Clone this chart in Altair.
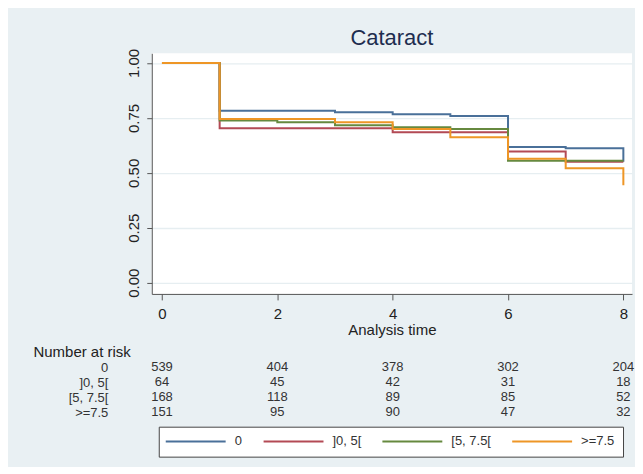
import altair as alt
import pandas as pd

# ---- data ----
groups = ["0", "]0, 5[", "[5, 7.5[", ">=7.5"]
colors = ["#4a7099", "#b34a55", "#66893f", "#ee9626"]

times = [0, 1, 2, 3, 4, 5, 6, 7, 8]
surv_0 = [1.0, 0.782, 0.782, 0.776, 0.767, 0.759, 0.617, 0.612, 0.550]
surv_1 = [1.0, 0.703, 0.703, 0.703, 0.685, 0.685, 0.597, 0.550, 0.550]
surv_2 = [1.0, 0.738, 0.730, 0.717, 0.708, 0.700, 0.555, 0.555, 0.555]
surv_3 = [1.0, 0.745, 0.745, 0.730, 0.700, 0.662, 0.564, 0.521, 0.444]

risk_times = [0, 2, 4, 6, 8]
risk_0 = [539, 404, 378, 302, 204]
risk_1 = [64, 45, 42, 31, 18]
risk_2 = [168, 118, 89, 85, 52]
risk_3 = [151, 95, 90, 47, 32]

x_ticks = [0, 2, 4, 6, 8]
y_ticks = [0, 0.25, 0.5, 0.75, 1.0]

# ---- tables ----
km_rows = []
for g, s in zip(groups, [surv_0, surv_1, surv_2, surv_3]):
    for t, v in zip(times, s):
        km_rows.append({"group": g, "time": t, "surv": v})
km_df = pd.DataFrame(km_rows)

risk_rows = []
for g, r in zip(groups, [risk_0, risk_1, risk_2, risk_3]):
    for t, n in zip(risk_times, r):
        risk_rows.append({"group": g, "time": t, "n": n})
risk_df = pd.DataFrame(risk_rows)

FONT = "Liberation Sans"
x_scale = alt.Scale(domain=[-0.177, 8.15], nice=False, zero=False)
color_scale = alt.Scale(domain=groups, range=colors)

km = alt.Chart(km_df).mark_line(interpolate="step-after", strokeWidth=2).encode(
    x=alt.X("time:Q", scale=x_scale,
            axis=alt.Axis(values=x_ticks, title="Analysis time", grid=False,
                          labelFlush=False, labelOverlap=False, tickSize=6,
                          labelPadding=7, labelFontSize=15, titleFontSize=15,
                          titleFontWeight="normal", titlePadding=1,
                          domainColor="#555555", tickColor="#555555",
                          labelColor="#222222", titleColor="#222222")),
    y=alt.Y("surv:Q", scale=alt.Scale(domain=[-0.051, 1.044], nice=False, zero=False),
            axis=alt.Axis(values=y_ticks, format=".2f", title=None, labelAngle=-90,
                          labelAlign="center", labelBaseline="bottom",
                          grid=True, gridColor="#e6eef1", gridWidth=1.3,
                          tickSize=5, labelPadding=5, labelFontSize=15,
                          labelFlush=False, labelOverlap=False,
                          domainColor="#555555", tickColor="#555555",
                          labelColor="#222222")),
    color=alt.Color("group:N", scale=color_scale, legend=None),
).properties(
    width=481, height=241,
    title=alt.TitleParams("Cataract", fontSize=22, fontWeight="normal",
                          color="#1e2d4f", offset=-2, font=FONT),
    view=alt.ViewBackground(fill="white", stroke=None),
)

table_text = alt.Chart(risk_df).mark_text(fontSize=13, color="#333333", baseline="middle", font=FONT).encode(
    x=alt.X("time:Q", scale=x_scale, axis=None),
    y=alt.Y("group:N", sort=groups, scale=alt.Scale(domain=groups),
            axis=alt.Axis(title="Number at risk", titleAngle=0, titleAlign="left",
                          titleBaseline="middle", titleX=-119, titleY=-8,
                          titleFontSize=15, titleFontWeight="normal",
                          titleColor="#222222",
                          domain=False, ticks=False, grid=False,
                          labelPadding=44, labelFontSize=13, labelColor="#333333")),
    text="n:Q",
)

legend_layer = alt.Chart(km_df).transform_filter("false").mark_line(strokeWidth=2).encode(
    x=alt.X("time:Q", scale=x_scale, axis=None),
    color=alt.Color("group:N", scale=color_scale,
                    legend=alt.Legend(title=None, orient="none", direction="horizontal",
                                      legendX=7, legendY=67, columns=4,
                                      symbolType="M-5,0H35", symbolSize=9,
                                      symbolStrokeWidth=2, labelOffset=55,
                                      columnPadding=17, padding=8,
                                      strokeColor="#444444", fillColor="white",
                                      labelFontSize=13, labelColor="#333333",
                                      labelLimit=200)),
)

table = alt.layer(table_text, legend_layer).properties(
    width=481, height=60,
    view=alt.ViewBackground(fill=None, stroke=None),
)

chart = alt.vconcat(km, table, spacing=7).resolve_scale(
    color="independent"
).resolve_legend(color="independent").properties(
    background="#e9f0f3",
    padding={"left": 25, "top": 19, "right": 0, "bottom": 9},
).configure(font=FONT).configure_view(stroke=None)

chart.save("out.html", embed_options={"renderer": "svg", "actions": False})
